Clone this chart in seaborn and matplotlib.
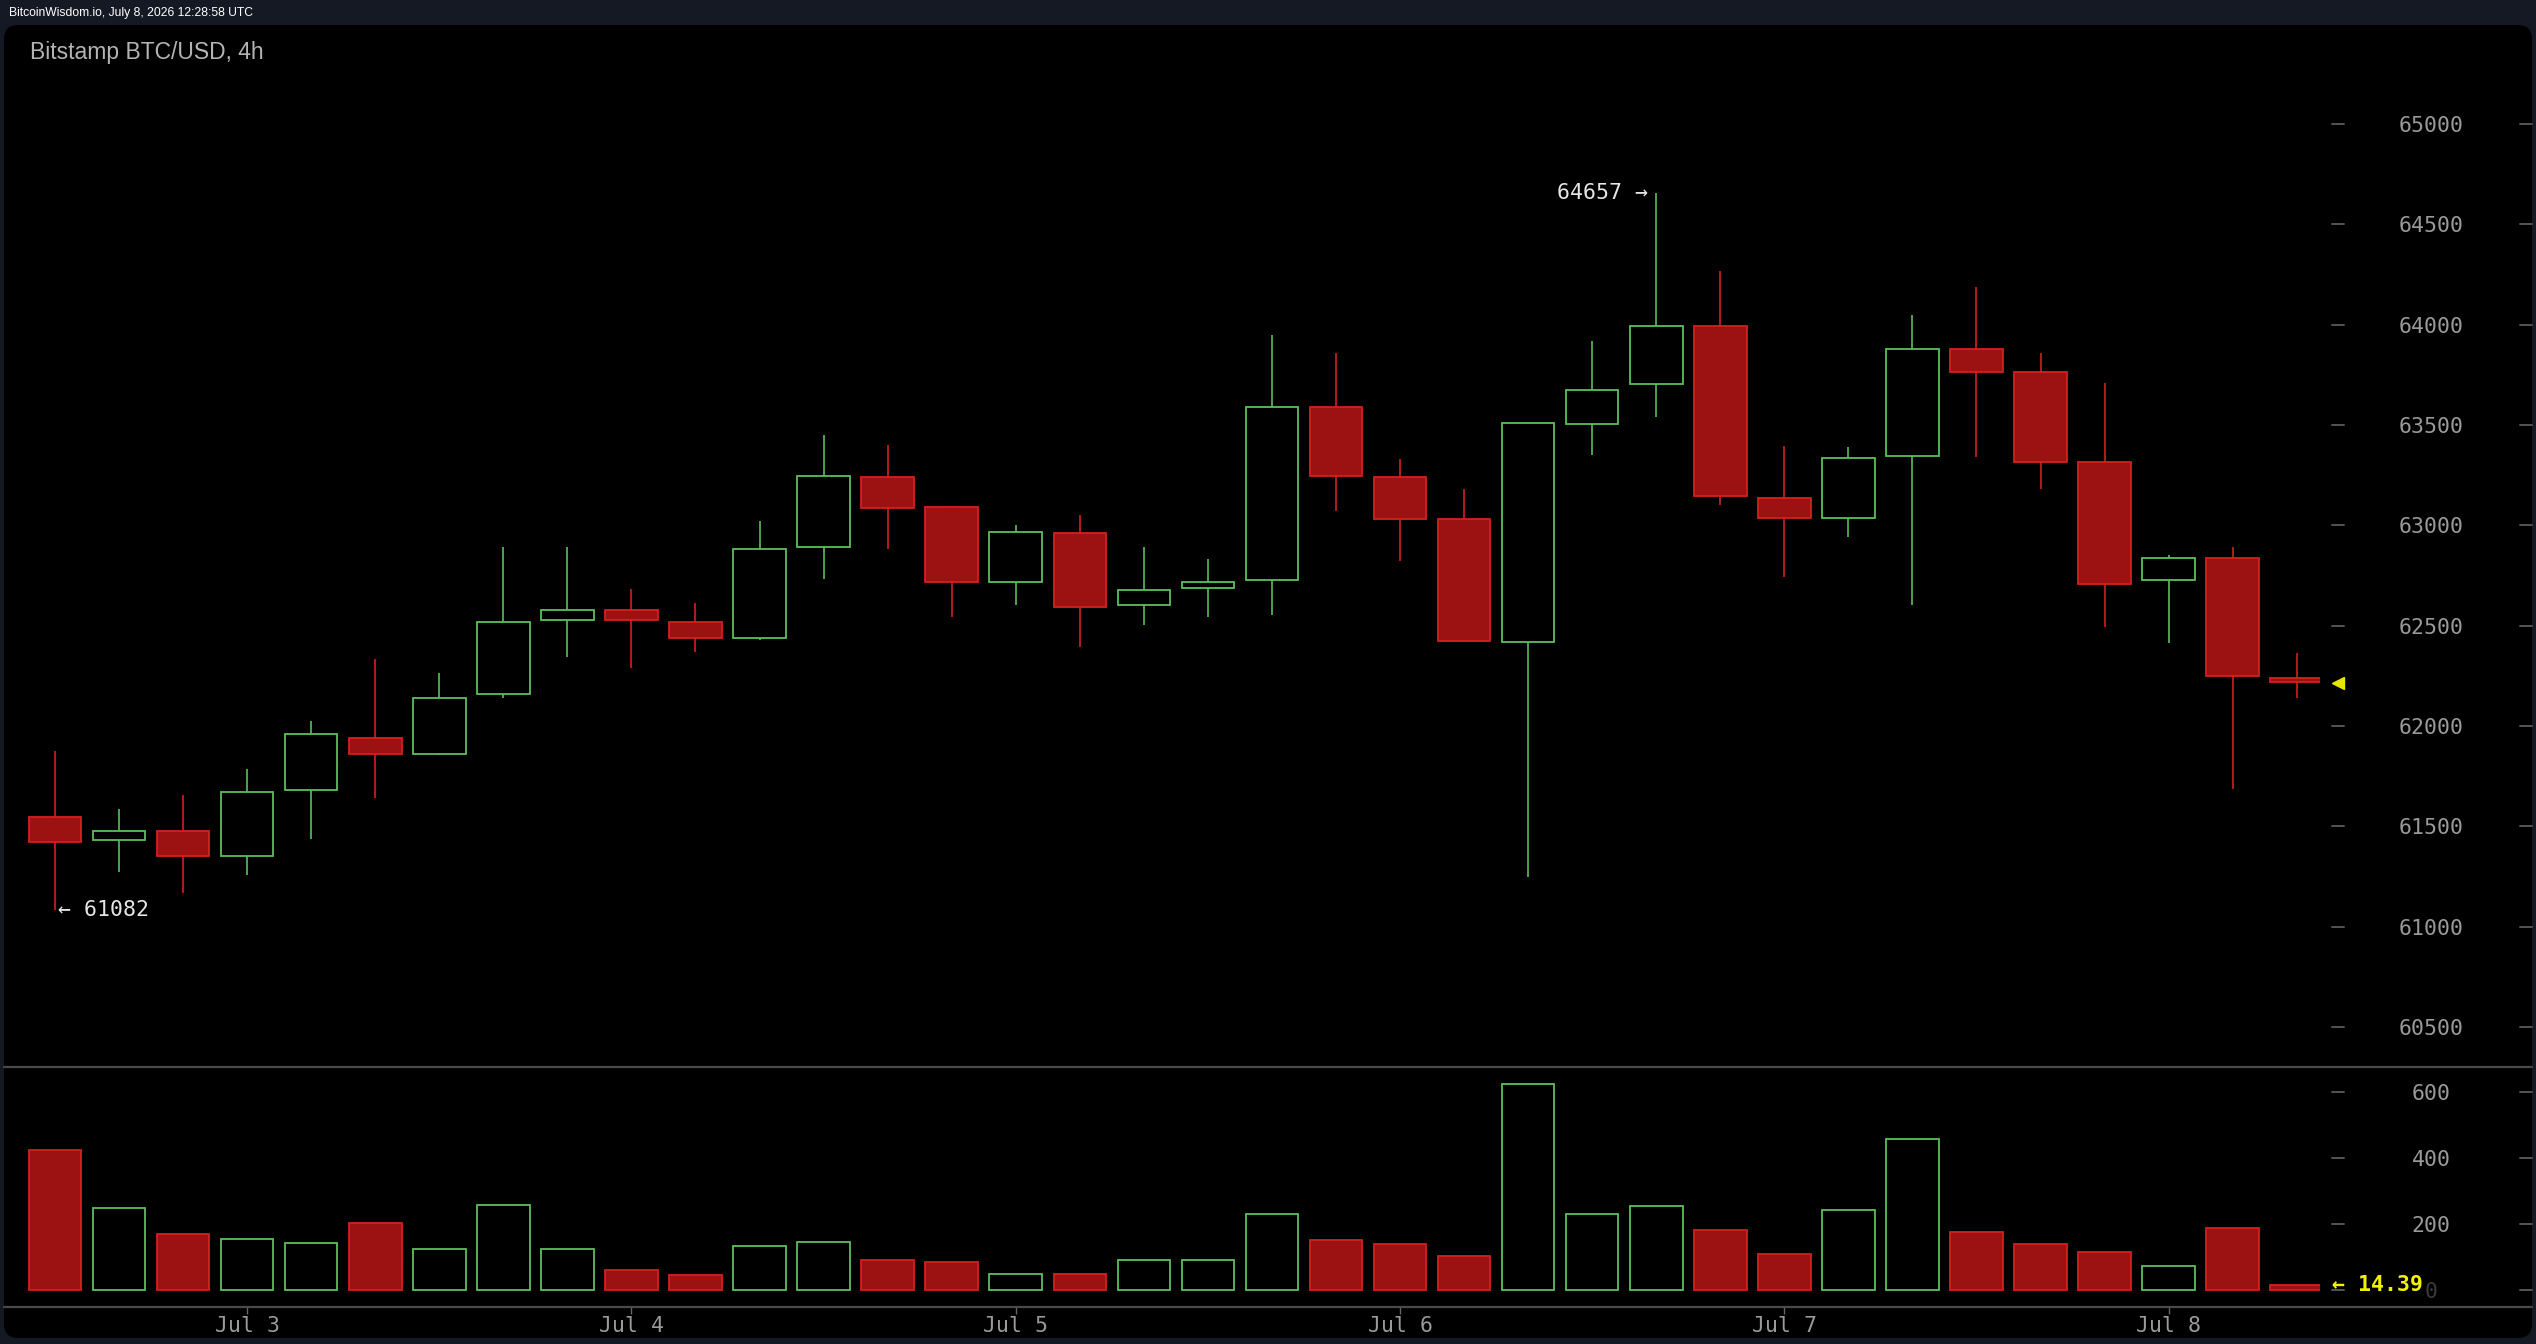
import numpy as np
import pandas as pd
import seaborn as sns
import matplotlib
matplotlib.use("Agg")
import matplotlib.pyplot as plt
from matplotlib.patches import FancyBboxPatch
from matplotlib.lines import Line2D
from matplotlib.transforms import blended_transform_factory

# ---------------- data ----------------
opens = [61544, 61432, 61475, 61352, 61680, 61942, 61859, 62158, 62528, 62578, 62520, 62437,
         62890, 63238, 63089, 62715, 62959, 62605, 62686, 62727, 63588, 63238, 63029, 62419,
         63504, 63704, 63993, 63137, 63034, 63343, 63876, 63764, 63315, 62725, 62837, 62240]
highs = [61874, 61586, 61657, 61784, 62025, 62333, 62263, 62892, 62892, 62682, 62612, 63023,
         63449, 63399, 63095, 63000, 63050, 62891, 62831, 63950, 63859, 63329, 63180, 63510,
         63916, 64657, 64265, 63395, 63389, 64048, 64188, 63859, 63707, 62851, 62891, 62361]
lows = [61082, 61271, 61170, 61259, 61438, 61639, 61855, 62137, 62345, 62287, 62367, 62430,
        62731, 62882, 62543, 62603, 62394, 62504, 62543, 62554, 63073, 62822, 62420, 61248,
        63352, 63541, 63103, 62742, 62943, 62605, 63341, 63183, 62493, 62413, 61686, 62141]
closes = [61422, 61475, 61352, 61673, 61962, 61859, 62141, 62520, 62578, 62528, 62437, 62880,
          63246, 63085, 62715, 62967, 62595, 62678, 62717, 63588, 63244, 63033, 62425, 63507,
          63676, 63993, 63146, 63034, 63335, 63876, 63764, 63315, 62705, 62837, 62247, 62218]
volumes = [424, 248, 169, 155, 143, 204, 125, 258, 125, 62, 44, 134, 146, 92, 86, 50, 50, 92,
           92, 230, 152, 140, 104, 623, 230, 254, 182, 110, 242, 458, 176, 140, 116, 74, 188, 14.39]
day_ticks = [3, 9, 15, 21, 27, 33]
day_labels = ["Jul 3", "Jul 4", "Jul 5", "Jul 6", "Jul 7", "Jul 8"]
price_ticks = [60500, 61000, 61500, 62000, 62500, 63000, 63500, 64000, 64500, 65000]
vol_ticks = [0, 200, 400, 600]
last_price = 62214
last_volume = 14.39
max_price, max_idx = 64657, 25
min_price, min_idx = 61082, 0

df = pd.DataFrame({"i": np.arange(len(opens)), "open": opens, "high": highs,
                   "low": lows, "close": closes, "volume": volumes})
df["up"] = df["close"] >= df["open"]

# ---------------- style ----------------
sns.set_theme(style="dark")
plt.rcParams["font.family"] = ["DejaVu Sans"]
MONO = ["DejaVu Sans Mono", "DejaVu Sans"]

BG = "#151924"
RED_FILL = "#9c1111"
RED_EDGE = "#d42020"
GREEN = "#5bbf5b"
LBL = "#9a9a9a"
DASH = "#555555"

W, H = 2536, 1344
fig = plt.figure(figsize=(W / 100, H / 100), dpi=100, facecolor=BG)

def fx(px):
    return px / W

def fy(py):
    return 1 - py / H

# black rounded panel
panel = FancyBboxPatch((fx(4), fy(1338)), fx(2532) - fx(4), fy(25) - fy(1338),
                       boxstyle="round,pad=0,rounding_size=%f" % (14 / W),
                       mutation_aspect=W / H, transform=fig.transFigure,
                       fc="black", ec="none", zorder=-5)
fig.patches.append(panel)

# pixel mapping for candle index
X0, DX = 55.0, 64.05
AX_L, AX_R = 10, 2320
xlim = ((AX_L - X0) / DX, (AX_R - X0) / DX)

def axfrac(px):
    return (px - AX_L) / (AX_R - AX_L)

# ---------------- price axes ----------------
P_TOP, P_BOT = 60, 1060
axp = fig.add_axes([fx(AX_L), fy(P_BOT), fx(AX_R) - fx(AX_L), (P_BOT - P_TOP) / H])
axp.set_facecolor("none")
for s in axp.spines.values():
    s.set_visible(False)
pt = lambda py: 60500 + (1027.0 - py) / 0.2007
axp.set_xlim(*xlim)
axp.set_ylim(pt(P_BOT), pt(P_TOP))

edge_cols = [GREEN if u else RED_EDGE for u in df["up"]]
face_cols = ["black" if u else RED_FILL for u in df["up"]]
axp.vlines(df["i"], df["low"], df["high"], colors=edge_cols, linewidth=1.2, zorder=2)
bottoms = np.minimum(df["open"], df["close"])
heights = np.maximum(np.abs(df["close"] - df["open"]), 8)
axp.bar(df["i"], heights, bottom=bottoms, width=0.82, color=face_cols,
        edgecolor=edge_cols, linewidth=1.3, zorder=3)

axp.set_xticks([])
axp.yaxis.tick_right()
axp.set_yticks(price_ticks)
axp.set_yticklabels([str(t) for t in price_ticks], ha="center", family=MONO)
axp.tick_params(axis="y", length=0, pad=(2431 - AX_R) * 0.72, labelsize=15.5, labelcolor=LBL)

trp = blended_transform_factory(axp.transAxes, axp.transData)
for t in price_ticks:
    axp.plot([axfrac(2332), axfrac(2344)], [t, t], transform=trp, color=DASH, lw=1.4, clip_on=False)
    axp.plot([axfrac(2520), axfrac(2532)], [t, t], transform=trp, color=DASH, lw=1.4, clip_on=False)
axp.plot([axfrac(2338)], [last_price], transform=trp, marker="<", color="#e6e600",
         markersize=9, clip_on=False, linestyle="none")

axp.annotate(f"{max_price} \u2192", xy=(max_idx, max_price), xytext=(-6, 0),
             textcoords="offset points", ha="right", va="center",
             fontsize=15.5, color="#e6e6e6", family=MONO)
axp.annotate(f"\u2190 {min_price}", xy=(min_idx, min_price), xytext=(2, 0),
             textcoords="offset points", ha="left", va="center",
             fontsize=15.5, color="#e6e6e6", family=MONO)

# ---------------- volume axes ----------------
V_TOP, V_BOT = 1067, 1306.5
axv = fig.add_axes([fx(AX_L), fy(V_BOT), fx(AX_R) - fx(AX_L), (V_BOT - V_TOP) / H])
axv.set_facecolor("none")
sns.barplot(data=df, x="i", y="volume", native_scale=True, width=0.82,
            errorbar=None, color="black", ax=axv, zorder=3)
for p in axv.patches:
    idx = int(round(p.get_x() + p.get_width() / 2))
    up = bool(df["up"].iloc[idx])
    p.set_facecolor("black" if up else RED_FILL)
    p.set_edgecolor(GREEN if up else RED_EDGE)
    p.set_linewidth(1.3)
for s in axv.spines.values():
    s.set_visible(False)
vt = lambda py: (1290 - py) / 0.33
axv.set_xlim(*xlim)
axv.set_ylim(vt(V_BOT), vt(V_TOP))
axv.set_xlabel("")
axv.set_ylabel("")

axv.set_xticks(day_ticks)
axv.set_xticklabels(day_labels, family=MONO)
axv.tick_params(axis="x", direction="out", length=5, width=1, color="#666666",
                pad=1.5, labelsize=15.5, labelcolor=LBL, bottom=True)
axv.yaxis.tick_right()
axv.set_yticks(vol_ticks)
axv.set_yticklabels([str(t) for t in vol_ticks], ha="center", family=MONO)
axv.tick_params(axis="y", length=0, pad=(2431 - AX_R) * 0.72, labelsize=15.5, labelcolor=LBL)
axv.get_yticklabels()[0].set_color("#3a3a3a")

trv = blended_transform_factory(axv.transAxes, axv.transData)
for t in vol_ticks:
    axv.plot([axfrac(2332), axfrac(2344)], [t, t], transform=trv, color=DASH, lw=1.4, clip_on=False)
    axv.plot([axfrac(2520), axfrac(2532)], [t, t], transform=trv, color=DASH, lw=1.4, clip_on=False)
axv.text(axfrac(2332), last_volume, f"\u2190 {last_volume:.2f}", transform=trv,
         ha="left", va="center", fontsize=15.5, color="#f2f200", family=MONO,
         fontweight="bold", clip_on=False, zorder=5)

# separator lines across the panel
for yy in (1066.7, 1306.7):
    fig.add_artist(Line2D([fx(4), fx(2532)], [fy(yy), fy(yy)], transform=fig.transFigure,
                          color="#4a4a4a", lw=1.6))

# header texts
fig.text(fx(9), fy(13), "BitcoinWisdom.io, July 8, 2026 12:28:58 UTC", fontsize=8.7,
         color="white", va="center", ha="left",
         family=["Liberation Sans Narrow", "Liberation Sans", "DejaVu Sans"])
fig.text(fx(30), fy(52), "Bitstamp BTC/USD, 4h", fontsize=16.5, color="#b4b4b4",
         va="center", ha="left", family=["Liberation Sans", "DejaVu Sans"])

fig.savefig("out.png", dpi=100, facecolor=BG)
